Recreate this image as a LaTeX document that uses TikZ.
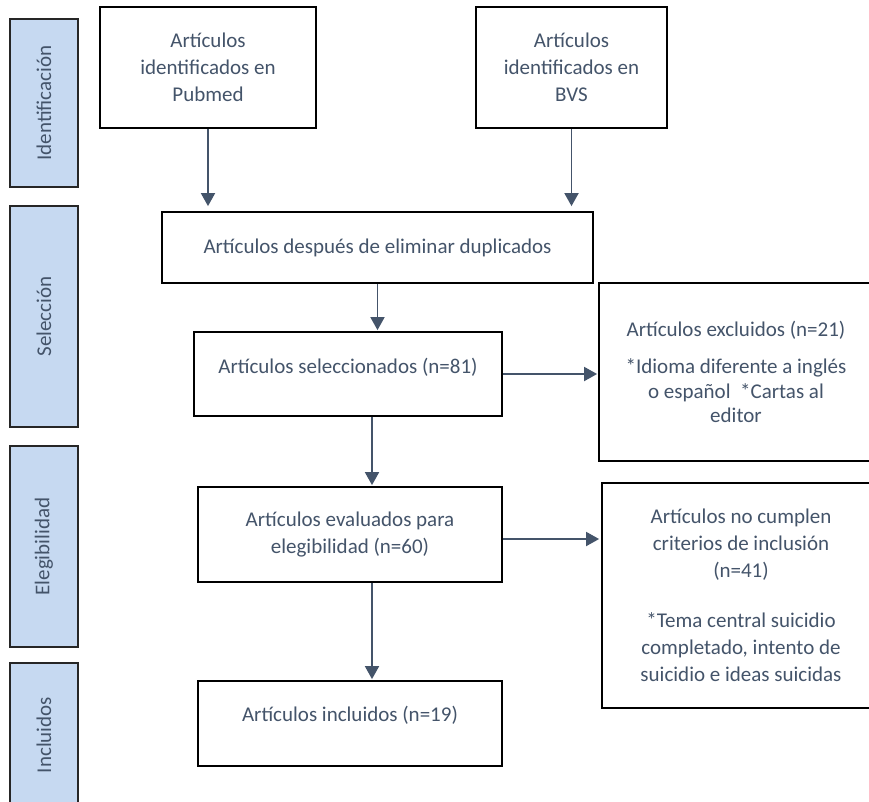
\documentclass[tikz,border=0pt]{standalone}
\usepackage{fontspec}
\setmainfont{Carlito}
\usetikzlibrary{arrows.meta,calc}
\definecolor{txtc}{HTML}{44546A}
\definecolor{sidec}{HTML}{C6D9F1}
\begin{document}
\begin{tikzpicture}[x=1pt,y=-1pt,
  box/.style={draw=black,line width=1.8pt,fill=white,inner sep=0pt,text=txtc,align=center,font=\fontsize{21}{27}\selectfont},
  bar/.style={draw=black!85,line width=1.8pt,fill=sidec,inner sep=0pt,rotate=90,minimum height=68pt,text=txtc,font=\fontsize{21}{27}\selectfont},
  lbl/.style={text=txtc,align=center,inner sep=0pt,font=\fontsize{21}{27}\selectfont},
  arr/.style={draw=txtc,line width=1.8pt,-{Triangle[length=13pt,width=14pt]}}]
\clip (0,0) rectangle (869,801);
\fill[white] (0,0) rectangle (869,801);
% side bars
\node[bar,minimum width=168pt] (s1) at (44,103) {Identificación};
\node[bar,minimum width=221pt] (s2) at (44,316.5) {Selección};
\node[bar,minimum width=201pt] (s3) at (44,546.5) {Elegibilidad};
\node[bar,minimum width=144pt] (s4) at (44,735) {Incluidos};
% boxes
\node[box,minimum width=216pt,minimum height=121pt] (pub) at (208,67.5) {Artículos\\identificados en\\Pubmed};
\node[box,minimum width=191pt,minimum height=121pt] (bvs) at (571.5,67.5) {Artículos\\identificados en\\BVS};
\node[box,minimum width=431pt,minimum height=71pt] (dup) at (377.5,247.5) {Artículos después de eliminar duplicados};
\node[box,minimum width=308pt,minimum height=84pt] (sel) at (348,374) {};
\node[lbl] (selt) at (348,367) {Artículos seleccionados (n=81)};
\node[box,minimum width=274pt,minimum height=178pt,font=\fontsize{21}{24.5}\selectfont] (exc) at (736,372) {Artículos excluidos (n=21)\\[13pt]*Idioma diferente a inglés\\o español\ \ *Cartas al\\editor};
\node[box,minimum width=304pt,minimum height=95pt] (eva) at (350,534.5) {Artículos evaluados para\\elegibilidad (n=60)};
\node[box,minimum width=278pt,minimum height=225pt] (noc) at (741,595.5) {Artículos no cumplen\\criterios de inclusión\\(n=41)\\[23pt]*Tema central suicidio\\completado, intento de\\suicidio e ideas suicidas};
\node[box,minimum width=304pt,minimum height=85pt] (inc) at (350,723.5) {};
\node[lbl] (inct) at (350,715) {Artículos incluidos (n=19)};
% arrows
\draw[arr,shorten >=5pt] (pub.south) -- (pub.south |- dup.north);
\draw[arr,shorten >=5pt] (bvs.south) -- (bvs.south |- dup.north);
\draw[arr,shorten >=1pt] (dup.south) -- (dup.south |- sel.north);
\draw[arr,shorten >=1pt] (sel.east) -- (sel.east -| exc.west);
\draw[arr,shorten >=1pt] ([xshift=24pt]sel.south) -- ([xshift=24pt]sel.south |- eva.north);
\draw[arr,shorten >=2pt] ([yshift=-4.5pt]eva.east) -- ([yshift=-4.5pt]eva.east -| noc.west);
\draw[arr,shorten >=1pt] ([xshift=22pt]eva.south) -- ([xshift=22pt]eva.south |- inc.north);
\end{tikzpicture}
\end{document}
